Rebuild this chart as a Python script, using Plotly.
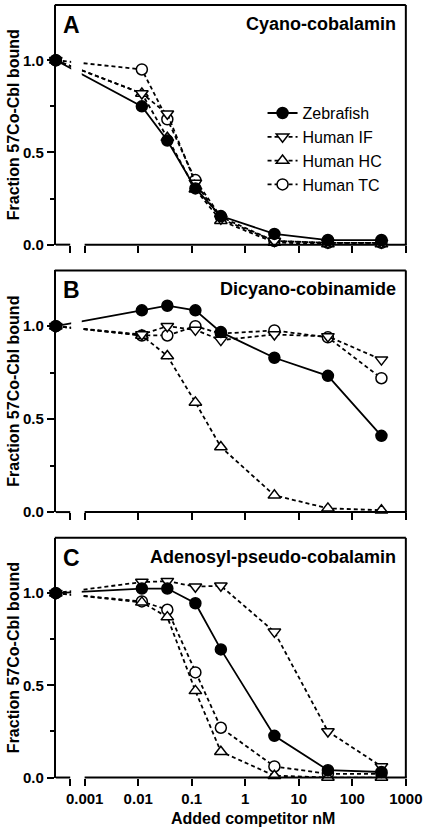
import plotly.graph_objects as go

# ---------------- data ----------------
conc = [0, 0.0117, 0.035, 0.117, 0.35, 3.5, 35, 350]   # added competitor, nM (0 = no competitor)
series_names = ["Zebrafish", "Human IF", "Human HC", "Human TC"]

panel_titles = ["Cyano-cobalamin", "Dicyano-cobinamide", "Adenosyl-pseudo-cobalamin"]
panel_letters = ["A", "B", "C"]

a_zebrafish = [1.0, 0.75, 0.565, 0.305, 0.155, 0.058, 0.025, 0.025]
a_human_if = [1.0, 0.82, 0.71, 0.335, 0.14, 0.02, 0.01, 0.01]
a_human_hc = [1.0, 0.82, 0.58, 0.30, 0.13, 0.012, 0.003, 0.003]
a_human_tc = [1.0, 0.95, 0.68, 0.35, 0.15, 0.02, 0.01, 0.01]

b_zebrafish = [1.0, 1.085, 1.11, 1.085, 0.968, 0.83, 0.733, 0.41]
b_human_if = [1.0, 0.955, 1.0, 0.98, 0.925, 0.955, 0.945, 0.82]
b_human_hc = [1.0, 0.95, 0.84, 0.59, 0.35, 0.09, 0.02, 0.01]
b_human_tc = [1.0, 0.95, 0.95, 1.0, 0.96, 0.977, 0.94, 0.72]

c_zebrafish = [1.0, 1.025, 1.025, 0.945, 0.695, 0.226, 0.04, 0.03]
c_human_if = [1.0, 1.06, 1.065, 1.035, 1.04, 0.79, 0.25, 0.06]
c_human_hc = [1.0, 0.95, 0.87, 0.47, 0.14, 0.01, 0.0, 0.0]
c_human_tc = [1.0, 0.955, 0.91, 0.57, 0.27, 0.06, 0.02, 0.02]

panels = [
    [a_zebrafish, a_human_if, a_human_hc, a_human_tc],
    [b_zebrafish, b_human_if, b_human_hc, b_human_tc],
    [c_zebrafish, c_human_if, c_human_hc, c_human_tc],
]

x_tick_vals = [0.001, 0.01, 0.1, 1, 10, 100, 1000]
x_tick_text = ["0.001", "0.01", "0.1", "1", "10", "100", "1000"]
y_tick_vals = [0, 0.5, 1.0]
y_tick_text = ["0.0", "0.5", "1.0"]

# position of the "0" segment on the broken log axis
LOG_LEFT = -3.54
ZERO_POS = 10 ** LOG_LEFT
BREAK_TICK = 10 ** -3.27

# ---------------- layout helpers ----------------
W, H = 444, 840
FONT = "Liberation Sans, Arial, sans-serif"
PX_L, PX_R = 58, 422
panel_px = [(5, 247), (273, 517), (543, 785)]  # (top, bottom) in pixels


def px_x(p):
    return p / W


def px_y(p):
    return 1 - p / H


styles = {
    "Zebrafish": dict(symbol="circle", fill="black", dash="solid", size=11),
    "Human IF": dict(symbol="triangle-down", fill="white", dash="4px,3px", size=11),
    "Human HC": dict(symbol="triangle-up", fill="white", dash="4px,3px", size=11),
    "Human TC": dict(symbol="circle", fill="white", dash="4px,3px", size=11),
}
draw_order = [3, 2, 1, 0]  # draw Zebrafish on top

fig = go.Figure()
xplot = [ZERO_POS if c == 0 else c for c in conc]

layout = dict(
    width=W, height=H,
    margin=dict(l=0, r=0, t=0, b=0),
    paper_bgcolor="white", plot_bgcolor="white",
    font=dict(family=FONT, color="black"),
    showlegend=True,
    legend=dict(
        x=px_x(273), y=px_y(97), xanchor="left", yanchor="top",
        font=dict(size=16, family=FONT, color="black"),
        bgcolor="rgba(0,0,0,0)", borderwidth=0,
        traceorder="normal", itemwidth=30,
    ),
)
shapes = []
annotations = []

for i, (top, bot) in enumerate(panel_px):
    sfx = "" if i == 0 else str(i + 1)
    xa, ya = "x" + sfx, "y" + sfx
    data = panels[i]
    for k in draw_order:
        name = series_names[k]
        st = styles[name]
        fig.add_trace(go.Scatter(
            x=xplot, y=data[k], mode="lines+markers", name=name,
            xaxis=xa, yaxis=ya, showlegend=(i == 0), legendrank=k + 1,
            cliponaxis=False,
            line=dict(color="black", width=1.8, dash=st["dash"]),
            marker=dict(symbol=st["symbol"], size=st["size"], color=st["fill"],
                        line=dict(color="black", width=1.5)),
        ))

    layout["xaxis" + sfx] = dict(
        type="log", range=[LOG_LEFT, 3],
        domain=[px_x(PX_L), px_x(PX_R)], anchor=ya,
        showline=False, showgrid=False, zeroline=False,
        ticks="outside", ticklen=7, tickwidth=2, tickcolor="black",
        tickvals=[BREAK_TICK] + x_tick_vals,
        ticktext=[""] + x_tick_text,
        showticklabels=(i == 2),
        tickfont=dict(size=15, family=FONT, weight="bold", color="black"),
    )
    layout["yaxis" + sfx] = dict(
        range=[0, 1.3], domain=[px_y(bot), px_y(top)], anchor=xa,
        showline=True, linewidth=2, linecolor="black",
        showgrid=False, zeroline=False,
        ticks="outside", ticklen=7, tickwidth=2, tickcolor="black",
        tickvals=y_tick_vals, ticktext=y_tick_text,
        tickfont=dict(size=15, family=FONT, weight="bold", color="black"),
        minor=dict(tickvals=[0.25, 0.75], ticks="outside", ticklen=4,
                   tickwidth=2, tickcolor="black"),
    )

    # gap in the lines at the axis break
    shapes.append(dict(type="rect", xref="paper", yref="paper",
                       x0=px_x(74), x1=px_x(85), y0=px_y(bot - 1), y1=px_y(top + 2),
                       fillcolor="white", line=dict(width=0), layer="above"))
    # broken x axis line
    shapes.append(dict(type="line", xref="paper", yref="paper",
                       x0=px_x(PX_L), x1=px_x(73), y0=px_y(bot), y1=px_y(bot),
                       line=dict(color="black", width=2), layer="above"))
    shapes.append(dict(type="line", xref="paper", yref="paper",
                       x0=px_x(88), x1=px_x(PX_R + 1), y0=px_y(bot), y1=px_y(bot),
                       line=dict(color="black", width=2), layer="above"))
    # frame top and right
    shapes.append(dict(type="line", xref="paper", yref="paper",
                       x0=px_x(PX_L - 1), x1=px_x(PX_R), y0=px_y(top), y1=px_y(top),
                       line=dict(color="black", width=2), layer="above"))
    shapes.append(dict(type="line", xref="paper", yref="paper",
                       x0=px_x(PX_R), x1=px_x(PX_R), y0=px_y(top), y1=px_y(bot),
                       line=dict(color="black", width=2), layer="above"))

    # panel letter and title
    annotations.append(dict(xref="paper", yref="paper", x=px_x(63), y=px_y(top + 20),
                            xanchor="left", yanchor="middle", showarrow=False,
                            text=panel_letters[i],
                            font=dict(size=23, family=FONT, weight="bold", color="black")))
    annotations.append(dict(xref="paper", yref="paper", x=px_x(414), y=px_y(top + 19),
                            xanchor="right", yanchor="middle", showarrow=False,
                            text=panel_titles[i],
                            font=dict(size=18, family=FONT, weight="bold", color="black")))
    # y axis title
    annotations.append(dict(xref="paper", yref="paper", x=px_x(14), y=px_y((top + bot) / 2),
                            xanchor="center", yanchor="middle", showarrow=False,
                            textangle=-90, text="Fraction 57Co-Cbl bound",
                            font=dict(size=16, family=FONT, weight="bold", color="black")))

annotations.append(dict(xref="paper", yref="paper", x=px_x(263), y=px_y(826),
                        xanchor="center", yanchor="middle", showarrow=False,
                        text="Added competitor nM",
                        font=dict(size=16, family=FONT, weight="bold", color="black")))

layout["shapes"] = shapes
layout["annotations"] = annotations
fig.update_layout(**layout)

fig.write_html("out.html", config={"displayModeBar": False},
               post_script="document.body.style.margin='0';")
